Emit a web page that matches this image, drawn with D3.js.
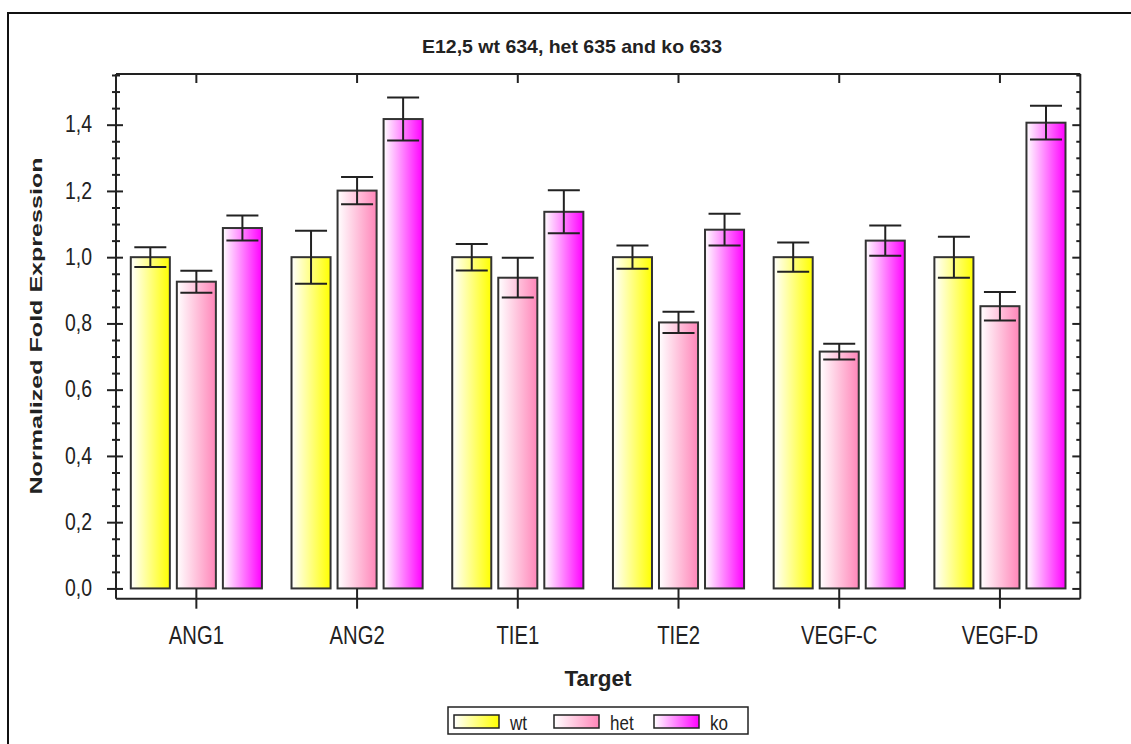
<!DOCTYPE html>
<html>
<head>
<meta charset="utf-8">
<script src="https://cdn.jsdelivr.net/npm/d3@7"></script>
<style>
  html, body { margin: 0; padding: 0; background: #fff; }
  svg { display: block; }
  text { font-family: "Liberation Sans", Arial, sans-serif; }
</style>
</head>
<body>
<svg id="chart" width="1131" height="744"></svg>
<script>
// Targets and series
const categories = ["ANG1", "ANG2", "TIE1", "TIE2", "VEGF-C", "VEGF-D"];
const seriesNames = ["wt", "het", "ko"];
const wtValues  = [1.000, 1.000, 1.000, 1.000, 1.000, 1.000];
const wtErrors  = [0.030, 0.080, 0.040, 0.035, 0.044, 0.062];
const hetValues = [0.926, 1.201, 0.938, 0.803, 0.715, 0.852];
const hetErrors = [0.033, 0.041, 0.060, 0.032, 0.024, 0.043];
const koValues  = [1.088, 1.417, 1.137, 1.083, 1.050, 1.406];
const koErrors  = [0.038, 0.065, 0.065, 0.048, 0.046, 0.051];
const yMajorTicks = [0, 0.2, 0.4, 0.6, 0.8, 1.0, 1.2, 1.4];
const yTickLabels = ["0,0", "0,2", "0,4", "0,6", "0,8", "1,0", "1,2", "1,4"];
const titleText = "E12,5 wt 634, het 635 and ko 633";
const yLabelText = "Normalized Fold Expression";
const xLabelText = "Target";

const seriesColors = { wt: "#ffff00", het: "#ff86b9", ko: "#ff00ff" };
const NARROW = 0.81;   // horizontal squeeze for the condensed label face

const rows = categories.map((c, i) => ({
  category: c,
  bars: [
    { series: "wt",  value: wtValues[i],  err: wtErrors[i] },
    { series: "het", value: hetValues[i], err: hetErrors[i] },
    { series: "ko",  value: koValues[i],  err: koErrors[i] }
  ]
}));

const svg = d3.select("#chart");

// plot frame
const plot = { left: 116, right: 1080.3, top: 74, bottom: 598.7 };

const x = d3.scaleBand().domain(categories).range([plot.left, plot.right]).padding(0);
const groupPad = 14.8;
const xs = d3.scaleBand().domain(seriesNames)
  .range([groupPad, x.bandwidth() - groupPad])
  .paddingInner(0.152).paddingOuter(0);
const y = d3.scaleLinear().domain([-0.031, 1.553]).range([plot.bottom, plot.top]);

// gradients (white on the left to full colour on the right)
const defs = svg.append("defs");
seriesNames.forEach(s => {
  const g = defs.append("linearGradient").attr("id", "grad-" + s)
    .attr("x1", "0%").attr("x2", "100%").attr("y1", "0%").attr("y2", "0%");
  g.append("stop").attr("offset", "0%").attr("stop-color", "#ffffff");
  g.append("stop").attr("offset", "100%").attr("stop-color", seriesColors[s]);
});

// outer border
svg.append("rect")
  .attr("x", 8).attr("y", 13).attr("width", 1300).attr("height", 900)
  .attr("fill", "none").attr("stroke", "#111").attr("stroke-width", 2);

// title
svg.append("text")
  .attr("x", 572).attr("y", 53).attr("text-anchor", "middle")
  .attr("font-size", 19).attr("font-weight", "bold").attr("fill", "#222")
  .attr("textLength", 300).attr("lengthAdjust", "spacingAndGlyphs")
  .text(titleText);

// bars
const groups = svg.append("g").selectAll("g.grp").data(rows).join("g")
  .attr("class", "grp")
  .attr("transform", d => `translate(${x(d.category)},0)`);

groups.selectAll("rect.bar").data(d => d.bars).join("rect")
  .attr("class", "bar")
  .attr("x", d => xs(d.series))
  .attr("width", xs.bandwidth())
  .attr("y", d => y(d.value))
  .attr("height", d => y(0) - y(d.value))
  .attr("fill", d => `url(#grad-${d.series})`)
  .attr("stroke", "#333").attr("stroke-width", 2);

// error bars
const capW = xs.bandwidth() * 0.82;
const eb = groups.selectAll("g.err").data(d => d.bars).join("g").attr("class", "err")
  .attr("stroke", "#222").attr("stroke-width", 2);
eb.append("line")
  .attr("x1", d => xs(d.series) + xs.bandwidth() / 2)
  .attr("x2", d => xs(d.series) + xs.bandwidth() / 2)
  .attr("y1", d => y(d.value + d.err)).attr("y2", d => y(d.value - d.err));
eb.append("line")
  .attr("x1", d => xs(d.series) + xs.bandwidth() / 2 - capW / 2)
  .attr("x2", d => xs(d.series) + xs.bandwidth() / 2 + capW / 2)
  .attr("y1", d => y(d.value + d.err)).attr("y2", d => y(d.value + d.err));
eb.append("line")
  .attr("x1", d => xs(d.series) + xs.bandwidth() / 2 - capW / 2)
  .attr("x2", d => xs(d.series) + xs.bandwidth() / 2 + capW / 2)
  .attr("y1", d => y(d.value - d.err)).attr("y2", d => y(d.value - d.err));

// minor tick values every 0.05
const minorTicks = d3.range(0, 1.56, 0.05).map(v => Math.round(v * 100) / 100)
  .filter(v => !yMajorTicks.some(m => Math.abs(m - v) < 1e-9));

function styleAxis(g) {
  g.select(".domain").attr("stroke", "#222").attr("stroke-width", 2);
  g.selectAll(".tick line").attr("stroke", "#222").attr("stroke-width", 2);
}

// left axis: minor ticks
const leftMinor = svg.append("g").attr("transform", `translate(${plot.left},0)`)
  .call(d3.axisLeft(y).tickValues(minorTicks).tickSize(4).tickFormat(""));
leftMinor.selectAll(".tick line").attr("x1", 4);
styleAxis(leftMinor);
leftMinor.select(".domain").remove();

// left axis: major ticks with labels
const leftMajor = svg.append("g").attr("transform", `translate(${plot.left},0)`)
  .call(d3.axisLeft(y).tickValues(yMajorTicks).tickSize(9).tickPadding(15)
    .tickFormat((d, i) => yTickLabels[i]));
leftMajor.selectAll(".tick line").attr("x1", 7);
leftMajor.select(".domain").attr("d", `M0,${plot.top}V${plot.bottom}`);
styleAxis(leftMajor);
leftMajor.selectAll(".tick text")
  .attr("font-family", null).attr("font-size", 24).attr("fill", "#222")
  .attr("x", 0).attr("dy", "0.3em")
  .attr("transform", `translate(-24,0) scale(${NARROW},1)`);

// right axis: inward ticks only
const rightMinor = svg.append("g").attr("transform", `translate(${plot.right},0)`)
  .call(d3.axisLeft(y).tickValues(minorTicks).tickSize(4).tickFormat(""));
styleAxis(rightMinor);
rightMinor.select(".domain").remove();
const rightMajor = svg.append("g").attr("transform", `translate(${plot.right},0)`)
  .call(d3.axisLeft(y).tickValues(yMajorTicks).tickSize(8).tickFormat(""));
rightMajor.select(".domain").attr("d", `M0,${plot.top}V${plot.bottom}`);
styleAxis(rightMajor);

// bottom axis with category labels, ticks crossing the line
const bottomAxis = svg.append("g").attr("transform", `translate(0,${plot.bottom})`)
  .call(d3.axisBottom(x).tickSize(10).tickPadding(18));
bottomAxis.selectAll(".tick line").attr("y1", -10);
bottomAxis.select(".domain").attr("d", `M${plot.left},0H${plot.right}`);
styleAxis(bottomAxis);
bottomAxis.selectAll(".tick text")
  .attr("font-family", null).attr("font-size", 25).attr("fill", "#222")
  .attr("y", 45).attr("dy", 0)
  .attr("transform", `scale(${NARROW},1)`);

// top axis: inward ticks
const topAxis = svg.append("g").attr("transform", `translate(0,${plot.top})`)
  .call(d3.axisBottom(x).tickSize(9).tickFormat(""));
topAxis.select(".domain").attr("d", `M${plot.left},0H${plot.right}`);
styleAxis(topAxis);

// axis titles
svg.append("text")
  .attr("transform", `translate(42,326) rotate(-90)`)
  .attr("text-anchor", "middle")
  .attr("font-family", "DejaVu Sans, Verdana, sans-serif")
  .attr("font-size", 17).attr("font-weight", "bold").attr("fill", "#222")
  .attr("textLength", 337).attr("lengthAdjust", "spacingAndGlyphs")
  .text(yLabelText);

svg.append("text")
  .attr("x", 598).attr("y", 686).attr("text-anchor", "middle")
  .attr("font-size", 22).attr("font-weight", "bold").attr("fill", "#222")
  .attr("textLength", 67).attr("lengthAdjust", "spacingAndGlyphs")
  .text(xLabelText);

// legend
const legend = svg.append("g");
legend.append("rect")
  .attr("x", 448).attr("y", 707).attr("width", 300).attr("height", 27)
  .attr("fill", "#fff").attr("stroke", "#222").attr("stroke-width", 1.5);
const lx = d3.scalePoint().domain(seriesNames).range([454, 654]);
const items = legend.selectAll("g.item").data(seriesNames).join("g").attr("class", "item")
  .attr("transform", d => `translate(${lx(d)},715)`);
items.append("rect").attr("width", 45).attr("height", 13)
  .attr("fill", d => `url(#grad-${d})`).attr("stroke", "#222").attr("stroke-width", 1.5);
items.append("text")
  .attr("transform", `translate(56,15) scale(0.85,1)`)
  .attr("font-size", 20).attr("fill", "#222")
  .text(d => d);
</script>
</body>
</html>
